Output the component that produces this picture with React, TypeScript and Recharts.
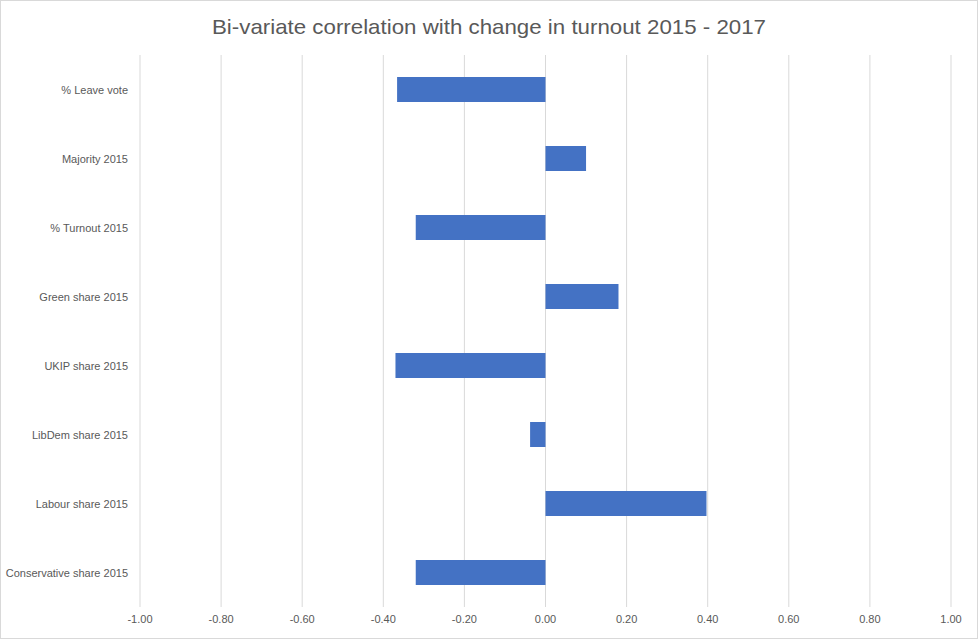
import { BarChart, Bar, XAxis, YAxis, CartesianGrid } from 'recharts';

// Correlation with change in turnout, top to bottom as drawn
const categories = [
  '% Leave vote',
  'Majority 2015',
  '% Turnout 2015',
  'Green share 2015',
  'UKIP share 2015',
  'LibDem share 2015',
  'Labour share 2015',
  'Conservative share 2015',
];
const correlations = [-0.366, 0.1, -0.32, 0.18, -0.37, -0.038, 0.397, -0.32];
const xTicks = [-1, -0.8, -0.6, -0.4, -0.2, 0, 0.2, 0.4, 0.6, 0.8, 1];

const chartData = categories.map((name, i) => ({ name, value: correlations[i] }));

const textColor = '#595959';
const font = '"Liberation Sans", Arial, sans-serif';

// plain single-line tick so long labels don't wrap
const CategoryTick = (props: any) => {
  const { x, y, payload } = props;
  return (
    <text
      x={x}
      y={y}
      textAnchor="end"
      dominantBaseline="central"
      fill={textColor}
      style={{ fontSize: 11, fontFamily: font }}
    >
      {payload.value}
    </text>
  );
};

export default function App() {
  return (
    <div
      style={{
        position: 'absolute',
        left: 0,
        top: 0,
        width: 978,
        height: 639,
        background: '#fff',
        border: '1px solid #d9d9d9',
        boxSizing: 'border-box',
        fontFamily: font,
      }}
    >
      <BarChart
        width={976}
        height={637}
        data={chartData}
        layout="vertical"
        margin={{ top: 54, right: 26, bottom: 0, left: 0 }}
      >
        <text
          x={488}
          y={25}
          textAnchor="middle"
          dominantBaseline="central"
          fill={textColor}
          textLength={554}
          lengthAdjust="spacingAndGlyphs"
          style={{ fontSize: 21, fontFamily: font }}
        >
          Bi-variate correlation with change in turnout 2015 - 2017
        </text>
        <CartesianGrid horizontal={false} stroke="#d9d9d9" strokeWidth={1} />
        <XAxis
          type="number"
          domain={[-1, 1]}
          ticks={xTicks}
          tickFormatter={(v: number) => v.toFixed(2)}
          axisLine={false}
          tickLine={false}
          height={31}
          tick={{ fill: textColor, fontSize: 11, fontFamily: font }}
        />
        <YAxis
          type="category"
          dataKey="name"
          width={139}
          axisLine={false}
          tickLine={false}
          tickMargin={6}
          tick={<CategoryTick />}
        />
        <Bar dataKey="value" fill="#4472C4" barSize={25} isAnimationActive={false} />
      </BarChart>
    </div>
  );
}
